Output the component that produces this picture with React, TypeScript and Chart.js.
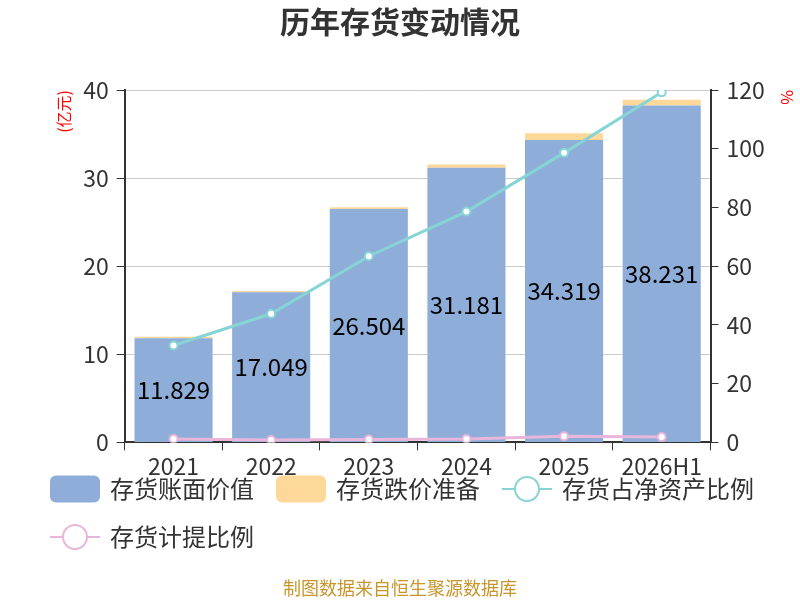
import { useEffect, useRef } from "react";
import { Chart, registerables, type Plugin } from "chart.js";

Chart.register(...registerables);

const FONT = '"Noto Sans CJK SC", "Noto Sans", sans-serif';

const years = ["2021", "2022", "2023", "2024", "2025", "2026H1"];
// 亿元
const bookValue = [11.829, 17.049, 26.504, 31.181, 34.319, 38.231];
const provision = [0.15, 0.15, 0.2, 0.35, 0.77, 0.65];
// %
const netAssetRatio = [33.0, 43.8, 63.4, 78.6, 98.6, 119.2];
const provisionRatio = [1.15, 0.8, 1.0, 1.15, 2.1, 1.8];

const BLUE = "#8eaed9";
const ORANGE = "#fed898";
const CYAN = "#86d4d5";
const PINK = "#e8b6da";
const AXIS = "#333333";

const legendItems = [
  { label: "存货账面价值", color: BLUE, kind: "box" },
  { label: "存货跌价准备", color: ORANGE, kind: "box" },
  { label: "存货占净资产比例", color: CYAN, kind: "line" },
  { label: "存货计提比例", color: PINK, kind: "line" },
];

// value labels in the middle of the book value bars
const barLabels: Plugin = {
  id: "barLabels",
  afterDatasetsDraw(chart) {
    const ctx = chart.ctx;
    const meta = chart.getDatasetMeta(0);
    ctx.save();
    ctx.font = `24px ${FONT}`;
    ctx.fillStyle = "#000";
    ctx.textAlign = "center";
    ctx.textBaseline = "middle";
    meta.data.forEach((bar, i) => {
      const { x, y, base } = bar.getProps(["x", "y", "base"], true) as any;
      ctx.fillText(bookValue[i].toFixed(3), x, (y + base) / 2);
    });
    ctx.restore();
  },
};

// legend + source note drawn under the axis
const bottomLegend: Plugin = {
  id: "bottomLegend",
  afterDraw(chart) {
    const ctx = chart.ctx;
    ctx.save();
    ctx.font = `24px ${FONT}`;
    ctx.textBaseline = "middle";
    ctx.textAlign = "left";
    let x = 50;
    let y = 489;
    for (const item of legendItems) {
      const w = 60 + ctx.measureText(item.label).width;
      if (x + w > 775) {
        x = 50;
        y += 48;
      }
      if (item.kind === "box") {
        ctx.fillStyle = item.color;
        ctx.beginPath();
        ctx.roundRect(x, y - 13.5, 50, 27, 6);
        ctx.fill();
      } else {
        ctx.strokeStyle = item.color;
        ctx.lineWidth = 2;
        ctx.beginPath();
        ctx.moveTo(x, y);
        ctx.lineTo(x + 50, y);
        ctx.stroke();
        ctx.beginPath();
        ctx.arc(x + 25, y, 12, 0, Math.PI * 2);
        ctx.fillStyle = "#fff";
        ctx.fill();
        ctx.stroke();
      }
      ctx.fillStyle = AXIS;
      ctx.fillText(item.label, x + 60, y);
      x += w + 22;
    }

    ctx.font = `18px ${FONT}`;
    ctx.fillStyle = "#c8952a";
    ctx.textAlign = "center";
    ctx.fillText("制图数据来自恒生聚源数据库", 400, 588);
    ctx.restore();
  },
};

export default function App() {
  const canvasRef = useRef<HTMLCanvasElement>(null);
  const chartRef = useRef<Chart | null>(null);

  useEffect(() => {
    const ctx = canvasRef.current?.getContext("2d");
    if (!ctx) return;
    chartRef.current?.destroy();

    const tickFont = { size: 23, family: FONT };

    chartRef.current = new Chart(ctx, {
      type: "bar",
      data: {
        labels: years,
        datasets: [
          {
            type: "bar",
            label: "存货账面价值",
            data: bookValue,
            backgroundColor: BLUE,
            stack: "inv",
            yAxisID: "y",
            order: 1,
            categoryPercentage: 0.8,
            barPercentage: 1,
          },
          {
            type: "bar",
            label: "存货跌价准备",
            data: provision,
            backgroundColor: ORANGE,
            stack: "inv",
            yAxisID: "y",
            order: 1,
            categoryPercentage: 0.8,
            barPercentage: 1,
          },
          {
            type: "line",
            label: "存货占净资产比例",
            data: netAssetRatio,
            borderColor: CYAN,
            backgroundColor: "#fff",
            pointBackgroundColor: "#fff",
            pointBorderColor: CYAN,
            pointBorderWidth: 2,
            pointRadius: 4,
            borderWidth: 3,
            tension: 0,
            yAxisID: "y1",
            order: 0,
          },
          {
            type: "line",
            label: "存货计提比例",
            data: provisionRatio,
            borderColor: PINK,
            backgroundColor: "#fff",
            pointBackgroundColor: "#fff",
            pointBorderColor: PINK,
            pointBorderWidth: 2,
            pointRadius: 4,
            borderWidth: 3,
            tension: 0,
            yAxisID: "y1",
            order: 0,
          },
        ],
      },
      options: {
        responsive: false,
        animation: false,
        layout: { padding: { left: 0, right: 0, top: 0, bottom: 118 } },
        plugins: {
          legend: { display: false },
          tooltip: { enabled: false },
          title: {
            display: true,
            text: "历年存货变动情况",
            color: AXIS,
            font: { size: 30, weight: "bold", family: FONT },
            padding: { top: 4, bottom: 50 },
          },
        },
        scales: {
          x: {
            stacked: true,
            grid: { drawOnChartArea: false, tickLength: 8, tickColor: AXIS, offset: true },
            border: { color: AXIS, width: 2 },
            ticks: { color: AXIS, font: tickFont, padding: 2 },
          },
          y: {
            stacked: true,
            position: "left",
            min: 0,
            max: 40,
            ticks: { stepSize: 10, color: AXIS, font: tickFont, padding: 8 },
            grid: { color: "#cccccc", tickColor: AXIS, tickLength: 8 },
            border: { color: AXIS, width: 2 },
            title: {
              display: true,
              text: "(亿元)",
              color: "#ff0000",
              align: "end",
              font: { size: 16, family: FONT },
              padding: { top: 54, bottom: 2 },
            },
          },
          y1: {
            position: "right",
            min: 0,
            max: 120,
            ticks: { stepSize: 20, color: AXIS, font: tickFont, padding: 8 },
            grid: { drawOnChartArea: false, tickColor: AXIS, tickLength: 8 },
            border: { color: AXIS, width: 2 },
            title: {
              display: true,
              text: "%",
              color: "#ff0000",
              align: "end",
              font: { size: 16, family: FONT },
              padding: { top: 3, bottom: 5 },
            },
          },
        },
      },
      plugins: [barLabels, bottomLegend],
    });

    return () => chartRef.current?.destroy();
  }, []);

  return (
    <div style={{ position: "absolute", left: 0, top: 0, width: 800, height: 600, background: "#fff" }}>
      <canvas ref={canvasRef} width={800} height={600} />
    </div>
  );
}
